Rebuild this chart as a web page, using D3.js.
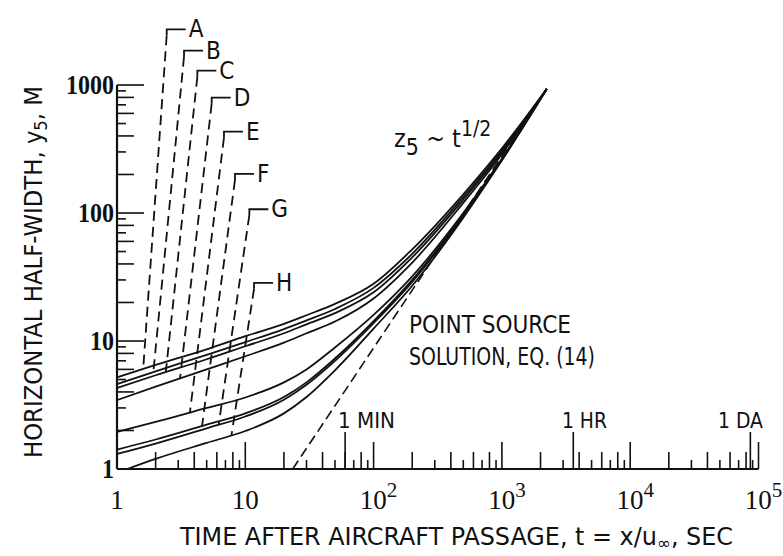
<!DOCTYPE html>
<html>
<head>
<meta charset="utf-8">
<script src="https://cdn.jsdelivr.net/npm/d3@7"></script>
<style>
  body { margin: 0; background: #fff; }
  svg { display: block; }
  text { fill: #111; }
</style>
</head>
<body>
<svg id="chart"></svg>
<script>
// curve data (t in sec, y5 in m)
var curveNames = ["A", "B", "C", "D", "E", "F", "G", "H"];
var tGrid = [1, 2, 5, 10, 20, 30, 50, 100, 200, 500, 1000, 2234];
var yA = [5.2, 6.5, 8.6, 10.9, 13.6, 15.9, 19.5, 28, 52, 140, 320, 930];
var yB = [4.6, 5.8, 7.8, 9.8, 12.4, 14.5, 17.8, 26, 48, 133, 308, 930];
var yC = [4.3, 5.4, 7.2, 9.1, 11.5, 13.5, 16.5, 24, 45, 127, 298, 930];
var yD = [3.45, 4.4, 6.0, 7.6, 9.7, 11.5, 14.2, 21.5, 41, 120, 288, 930];
var yE = [1.95, 2.33, 3.0, 3.62, 4.75, 6.0, 8.9, 16, 32, 100, 265, 930];
var yF = [1.42, 1.7, 2.22, 2.72, 3.65, 4.75, 7.3, 14.3, 30, 97, 262, 930];
var yG = [1.31, 1.58, 2.08, 2.57, 3.48, 4.55, 7.0, 13.8, 29, 95, 260, 930];
var tH = [1.2, 2, 5, 10, 20, 30, 50, 100, 200, 500, 1000, 2234];
var yH = [1.0, 1.2, 1.6, 1.98, 2.72, 3.65, 5.9, 12.5, 27, 92, 258, 930];

// point source solution, EQ. (14): dashed straight line
var psT = [23.4, 2234];
var psY = [1, 930];

// label corners (t, y) and where each leader meets its curve (t)
var labelT = [2.44, 3.33, 4.23, 5.47, 6.82, 8.31, 10.75, 11.7];
var labelY = [2723, 1854, 1294, 796, 432, 202, 107, 28.5];
var leaderT = [1.6, 1.92, 2.4, 3.1, 3.7, 4.6, 6.2, 7.8];

// axis labels
var xTickVals = [1, 10, 100, 1000, 10000, 100000];
var xTickBase = ["1", "10", "10", "10", "10", "10"];
var xTickExp = ["", "", "2", "3", "4", "5"];
var yTickVals = [1, 10, 100, 1000];
var yTickText = ["1", "10", "100", "1000"];
var timeMarks = [60, 3600, 86400];
var timeText = ["1 MIN", "1 HR", "1 DA"];
var timeTextT = [52.8, 2940, 48300];   // where each time label starts

var width = 783, height = 556;
var svg = d3.select("#chart").attr("width", width).attr("height", height);

var x = d3.scaleLog().domain([1, 1e5]).range([117, 758.5]);
var y = d3.scaleLog().domain([1, 1000]).range([469, 85]);

var sans = "'DejaVu Sans Condensed', 'DejaVu Sans', sans-serif";
var serif = "'Liberation Serif', 'DejaVu Serif', serif";

// ---- axes ----
var ax = svg.append("g").attr("stroke", "#111").attr("fill", "none");
ax.append("line").attr("x1", x(1)).attr("x2", x(1e5)).attr("y1", y(1)).attr("y2", y(1)).attr("stroke-width", 2.2);
ax.append("line").attr("x1", x(1)).attr("x2", x(1)).attr("y1", y(1)).attr("y2", y(1000)).attr("stroke-width", 2.2);

function tickLen(m) {
  if (m === 1) return 27;
  return m % 2 === 0 ? 17 : 9;
}

var xMinor = [];
for (var e = 0; e < 5; e++) {
  for (var m = 2; m <= 10; m++) xMinor.push({ v: m * Math.pow(10, e), m: m === 10 ? 1 : m });
}
ax.selectAll(".xt").data(xMinor).enter().append("line")
  .attr("x1", function(d) { return x(d.v); })
  .attr("x2", function(d) { return x(d.v); })
  .attr("y1", y(1))
  .attr("y2", function(d) { return y(1) - tickLen(d.m); })
  .attr("stroke-width", 1.6);

ax.selectAll(".tm").data(timeMarks).enter().append("line")
  .attr("x1", function(d) { return x(d); })
  .attr("x2", function(d) { return x(d); })
  .attr("y1", y(1))
  .attr("y2", y(1) - 37)
  .attr("stroke-width", 1.6);

var yMinor = [];
for (var e2 = 0; e2 < 3; e2++) {
  for (var m2 = 2; m2 <= 10; m2++) yMinor.push({ v: m2 * Math.pow(10, e2), m: m2 === 10 ? 1 : m2 });
}
ax.selectAll(".yt").data(yMinor).enter().append("line")
  .attr("y1", function(d) { return y(d.v); })
  .attr("y2", function(d) { return y(d.v); })
  .attr("x1", x(1))
  .attr("x2", function(d) { return x(1) + tickLen(d.m); })
  .attr("stroke-width", 1.6);

// tick labels
var xl = svg.append("g").attr("font-family", serif).attr("font-size", 27).attr("text-anchor", "middle");
xTickVals.forEach(function(v, i) {
  var t = xl.append("text").attr("x", x(v) + (xTickExp[i] ? 5 : 0)).attr("y", 509);
  t.append("tspan").text(xTickBase[i]);
  if (xTickExp[i]) t.append("tspan").attr("dy", -12).attr("font-size", 21).text(xTickExp[i]);
});

svg.append("g").attr("font-family", serif).attr("font-weight", "bold").attr("font-size", 28)
  .attr("text-anchor", "end")
  .selectAll("text").data(yTickVals).enter().append("text")
  .attr("x", x(1) - 3)
  .attr("y", function(d) { return y(d) + 9; })
  .attr("textLength", function(d, i) { return yTickText[i].length * 12; })
  .attr("lengthAdjust", "spacingAndGlyphs")
  .text(function(d, i) { return yTickText[i]; });

svg.append("g").attr("font-family", sans).attr("font-size", 21)
  .selectAll("text").data(timeMarks).enter().append("text")
  .attr("x", function(d, i) { return x(timeTextT[i]); })
  .attr("y", 428)
  .attr("textLength", function(d, i) { return [57, 45, 45][i]; })
  .attr("lengthAdjust", "spacingAndGlyphs")
  .text(function(d, i) { return timeText[i]; });

// axis titles
var xt = svg.append("text").attr("font-family", sans).attr("font-size", 24)
  .attr("x", 180).attr("y", 545).attr("textLength", 553).attr("lengthAdjust", "spacingAndGlyphs");
xt.append("tspan").text("TIME AFTER AIRCRAFT PASSAGE, t = x/u");
xt.append("tspan").attr("dy", 4).attr("font-size", 17).text("\u221E");
xt.append("tspan").attr("dy", -4).text(", SEC");

var yt = svg.append("text").attr("font-family", sans).attr("font-size", 25)
  .attr("transform", "translate(42,458) rotate(-90)")
  .attr("textLength", 372).attr("lengthAdjust", "spacingAndGlyphs");
yt.append("tspan").text("HORIZONTAL HALF-WIDTH, y");
yt.append("tspan").attr("dy", 5).attr("font-size", 18).text("5");
yt.append("tspan").attr("dy", -5).text(",  M");

// ---- curves ----
var line = d3.line()
  .x(function(d) { return x(d[0]); })
  .y(function(d) { return y(d[1]); })
  .curve(d3.curveMonotoneX);

var series = [
  d3.zip(tGrid, yA), d3.zip(tGrid, yB), d3.zip(tGrid, yC), d3.zip(tGrid, yD),
  d3.zip(tGrid, yE), d3.zip(tGrid, yF), d3.zip(tGrid, yG), d3.zip(tH, yH)
];

svg.append("g").selectAll("path").data(series).enter().append("path")
  .attr("d", line)
  .attr("fill", "none")
  .attr("stroke", "#111")
  .attr("stroke-width", 1.8);

svg.append("path")
  .attr("d", d3.line().x(function(d) { return x(d[0]); }).y(function(d) { return y(d[1]); })(d3.zip(psT, psY)))
  .attr("fill", "none").attr("stroke", "#111").attr("stroke-width", 1.6)
  .attr("stroke-dasharray", "10,5");

// ---- leaders + letters ----
function curveAt(s, t) {
  var lx = s.map(function(d) { return Math.log(d[0]); });
  var ly = s.map(function(d) { return Math.log(d[1]); });
  var lt = Math.log(t);
  for (var i = 0; i < lx.length - 1; i++) {
    if (lt >= lx[i] && lt <= lx[i + 1]) {
      var f = (lt - lx[i]) / (lx[i + 1] - lx[i]);
      return Math.exp(ly[i] + f * (ly[i + 1] - ly[i]));
    }
  }
  return s[0][1];
}

var lg = svg.append("g");
curveNames.forEach(function(n, i) {
  var cx = x(labelT[i]), cy = y(labelY[i]);
  var ex = x(leaderT[i]), ey = y(curveAt(series[i], leaderT[i]));
  lg.append("path").attr("d", "M" + (cx + 19) + "," + cy + "H" + cx + "V" + (cy + 6))
    .attr("fill", "none").attr("stroke", "#111").attr("stroke-width", 1.8);
  lg.append("line").attr("x1", cx).attr("y1", cy + 6).attr("x2", ex).attr("y2", ey)
    .attr("stroke", "#111").attr("stroke-width", 1.8).attr("stroke-dasharray", "10,6");
  lg.append("text").attr("font-family", sans).attr("font-size", 24)
    .attr("x", cx + 22).attr("y", cy + 8).text(n);
});

// annotations
var z = svg.append("text").attr("font-family", sans).attr("font-size", 25).attr("x", 394).attr("y", 147);
z.append("tspan").text("z");
z.append("tspan").attr("dy", 8).attr("font-size", 23).text("5");
z.append("tspan").attr("dy", -8).text(" ~ t");
z.append("tspan").attr("dy", -11).attr("font-size", 21).text("1/2");

svg.append("text").attr("font-family", sans).attr("font-size", 25)
  .attr("x", 409).attr("y", 333).attr("textLength", 162).attr("lengthAdjust", "spacingAndGlyphs")
  .text("POINT SOURCE");
svg.append("text").attr("font-family", sans).attr("font-size", 25)
  .attr("x", 409).attr("y", 365).attr("textLength", 186).attr("lengthAdjust", "spacingAndGlyphs")
  .text("SOLUTION, EQ. (14)");
</script>
</body>
</html>
